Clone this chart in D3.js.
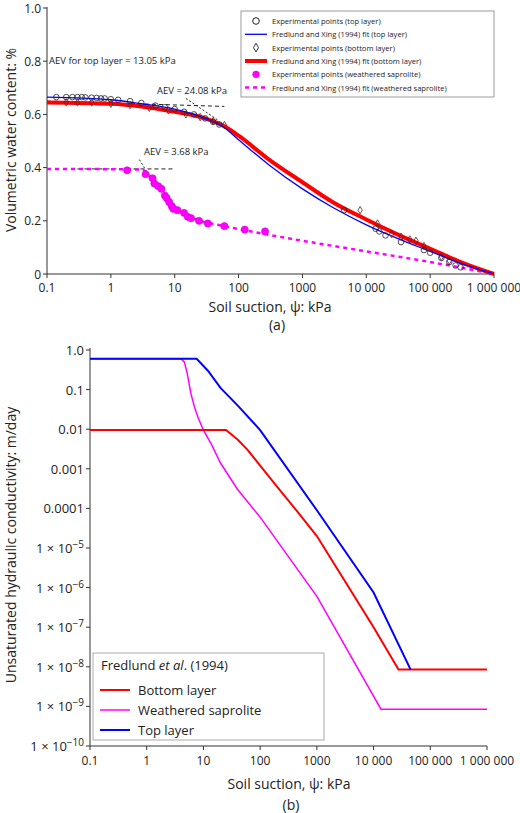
<!DOCTYPE html>
<html><head><meta charset="utf-8">
<script src="https://cdn.jsdelivr.net/npm/d3@7"></script>
<style>body{margin:0;background:#fff}text{font-family:"Open Sans",sans-serif;fill:#222}</style>
</head><body><div id="chart"></div>
<script>
// ---- data (a): water retention
var topFit = [[0.1,0.665],[1,0.655],[3,0.64],[10,0.62],[30,0.585],[60,0.55],[100,0.505],[300,0.41],[1000,0.32],[3000,0.25],[10000,0.185],[30000,0.135],[100000,0.085],[300000,0.04],[1000000,0]];
var bottomFit = [[0.1,0.645],[1,0.64],[3,0.63],[10,0.61],[30,0.585],[60,0.555],[100,0.52],[300,0.43],[1000,0.345],[3000,0.27],[10000,0.205],[30000,0.15],[100000,0.095],[300000,0.045],[1000000,0]];
var sapFit = [[0.1,0.395],[3,0.393],[4,0.37],[5,0.34],[7,0.295],[9,0.26],[12,0.235],[25,0.2],[60,0.18],[200,0.155],[1000,0.125],[10000,0.085],[100000,0.045],[1000000,0]];
var topPts = [[0.14,0.665],[0.2,0.665],[0.25,0.665],[0.3,0.665],[0.35,0.665],[0.4,0.664],[0.5,0.663],[0.6,0.662],[0.7,0.66],[0.8,0.66],[1,0.657],[1.3,0.655],[2,0.65],[3,0.643],[5,0.633],[7,0.627],[10,0.62],[14,0.61],[20,0.6],[30,0.585],[40,0.572],[50,0.562],[4500,0.24],[14000,0.17],[16000,0.16],[20000,0.145],[35000,0.12],[80000,0.09],[100000,0.08],[150000,0.06],[200000,0.045],[250000,0.032],[300000,0.025]];
var bottomPts = [[0.2,0.645],[0.3,0.645],[0.5,0.645],[1,0.64],[2,0.635],[4,0.625],[8,0.615],[15,0.6],[25,0.59],[40,0.575],[60,0.56],[8000,0.24],[15000,0.19],[25000,0.15],[35000,0.14],[48000,0.13],[60000,0.125],[80000,0.105],[150000,0.065],[200000,0.05]];
var sapPts = [[1.8,0.39],[3.5,0.375],[4.5,0.36],[4.8,0.34],[5.5,0.33],[6.2,0.32],[7,0.295],[7.5,0.285],[8.2,0.27],[9,0.255],[9.5,0.245],[11,0.24],[14,0.23],[16,0.215],[18,0.21],[24,0.2],[33,0.19],[60,0.18],[125,0.167],[260,0.16]];
// ---- data (b): conductivity
var kBottom = [[0.1,0.0095],[25,0.0095],[40,0.0055],[60,0.003],[100,0.0012],[200,0.00035],[500,0.00007],[1000,0.00002],[10000,1e-7],[27500,8.5e-9],[1000000,8.5e-9]];
var kSap = [[0.1,0.6],[4,0.6],[4.6,0.5],[5.2,0.25],[6,0.08],[7,0.035],[8,0.02],[10,0.0095],[14,0.004],[20,0.0014],[40,0.0003],[100,0.00006],[1000,6e-7],[13500,8.5e-10],[1000000,8.5e-10]];
var kTop = [[0.1,0.6],[7.6,0.6],[12,0.3],[20,0.11],[40,0.04],[100,0.0095],[1000,0.00009],[10000,7.5e-7],[45000,8.5e-9]];
var xTicks = [0.1,1,10,100,1000,10000,100000,1000000];
var xLabels = ["0.1","1","10","100","1000","10 000","100 000","1 000 000"];
var kTicks = [1,0.1,0.01,0.001,0.0001,1e-5,1e-6,1e-7,1e-8,1e-9,1e-10];

var svg = d3.select("#chart").append("svg").attr("width",520).attr("height",813);

function xAxisLabels(g, x, y0, size){
  g.selectAll(".xl").data(xTicks).enter().append("text")
    .attr("x",function(d){return x(d);}).attr("y",y0)
    .attr("text-anchor","middle").attr("font-size",size)
    .text(function(d,i){return xLabels[i];});
}

// ================= chart (a)
var xa = d3.scaleLog().domain([0.1,1e6]).range([47,494]);
var ya = d3.scaleLinear().domain([0,1]).range([274,8]);
var ga = svg.append("g");
ga.append("line").attr("x1",47).attr("x2",47).attr("y1",7).attr("y2",274).attr("stroke","#333");
ga.append("line").attr("x1",47).attr("x2",494).attr("y1",274).attr("y2",274).attr("stroke","#333");
[0,0.2,0.4,0.6,0.8,1.0].forEach(function(v){
  ga.append("line").attr("x1",43).attr("x2",47).attr("y1",ya(v)).attr("y2",ya(v)).attr("stroke","#333");
  ga.append("text").attr("x",41).attr("y",ya(v)+4.5).attr("text-anchor","end").attr("font-size",12).text(v==0?"0":v.toFixed(1));
});
xTicks.forEach(function(v){
  ga.append("line").attr("x1",xa(v)).attr("x2",xa(v)).attr("y1",274).attr("y2",278).attr("stroke","#333");
});
xAxisLabels(ga, xa, 292, 12);
ga.append("text").attr("x",270).attr("y",312).attr("text-anchor","middle").attr("font-size",14).text("Soil suction, ψ: kPa");
ga.append("text").attr("x",277).attr("y",330).attr("text-anchor","middle").attr("font-size",14).text("(a)");
ga.append("text").attr("transform","translate(16,140) rotate(-90)").attr("text-anchor","middle").attr("font-size",14).text("Volumetric water content: %");

var la = d3.line().x(function(d){return xa(d[0]);}).y(function(d){return ya(d[1]);}).curve(d3.curveMonotoneX);
// dashed AEV construction lines
ga.append("path").attr("d",la([[0.1,0.65],[60,0.63]])).attr("stroke","#222").attr("stroke-dasharray","4,3").attr("fill","none");
ga.append("path").attr("d",la([[15,0.66],[50,0.575]])).attr("stroke","#222").attr("stroke-dasharray","2,2").attr("fill","none");
ga.append("path").attr("d",la([[0.3,0.395],[10,0.395]])).attr("stroke","#222").attr("stroke-dasharray","4,3").attr("fill","none");
ga.append("path").attr("d",la([[2.8,0.43],[5,0.33]])).attr("stroke","#222").attr("stroke-dasharray","2,2").attr("fill","none");

ga.append("path").attr("d",la(sapFit)).attr("stroke","#f0f").attr("stroke-width",2.5).attr("stroke-dasharray","4,4").attr("fill","none");
ga.append("path").attr("d",la(bottomFit)).attr("stroke","#f00").attr("stroke-width",4).attr("fill","none");
ga.append("path").attr("d",la(topFit)).attr("stroke","#00f").attr("stroke-width",1.3).attr("fill","none");
ga.selectAll(".tp").data(topPts).enter().append("circle").attr("cx",function(d){return xa(d[0]);}).attr("cy",function(d){return ya(d[1]);})
  .attr("r",2.8).attr("fill","none").attr("stroke","#222").attr("stroke-width",0.8);
ga.selectAll(".bp").data(bottomPts).enter().append("path")
  .attr("d",d3.symbol().type(d3.symbolDiamond).size(16))
  .attr("transform",function(d){return "translate("+xa(d[0])+","+ya(d[1])+")";})
  .attr("fill","none").attr("stroke","#5a2020").attr("stroke-width",0.8);
ga.selectAll(".sp").data(sapPts).enter().append("circle").attr("cx",function(d){return xa(d[0]);}).attr("cy",function(d){return ya(d[1]);})
  .attr("r",3.6).attr("fill","#f0f").attr("stroke","#c0c").attr("stroke-width",0.5);

ga.append("text").attr("x",49).attr("y",64).attr("font-size",9.5).text("AEV for top layer = 13.05 kPa");
ga.append("text").attr("x",157).attr("y",94).attr("font-size",9.5).text("AEV = 24.08 kPa");
ga.append("text").attr("x",144).attr("y",155).attr("font-size",9.5).text("AEV = 3.68 kPa");

// legend (a)
var lga = ga.append("g").attr("transform","translate(241,11)");
lga.append("rect").attr("width",253).attr("height",86).attr("fill","#fff").attr("stroke","#999");
var legA = ["Experimental points (top layer)","Fredlund and Xing (1994) fit (top layer)","Experimental points (bottom layer)","Fredlund and Xing (1994) fit (bottom layer)","Experimental points (weathered saprolite)","Fredlund and Xing (1994) fit (weathered saprolite)"];
legA.forEach(function(t,i){
  var y = 10+i*13.3;
  lga.append("text").attr("x",31).attr("y",y+3).attr("font-size",7.6).attr("fill","#333").text(t);
});
lga.append("circle").attr("cx",15).attr("cy",10).attr("r",3.3).attr("fill","none").attr("stroke","#222");
lga.append("line").attr("x1",4).attr("x2",26).attr("y1",23.3).attr("y2",23.3).attr("stroke","#00f").attr("stroke-width",1.3);
lga.append("path").attr("d",d3.symbol().type(d3.symbolDiamond).size(22)).attr("transform","translate(15,36.6)").attr("fill","none").attr("stroke","#333");
lga.append("line").attr("x1",4).attr("x2",26).attr("y1",50).attr("y2",50).attr("stroke","#f00").attr("stroke-width",4);
lga.append("circle").attr("cx",15).attr("cy",63.3).attr("r",3.6).attr("fill","#f0f");
lga.append("line").attr("x1",4).attr("x2",26).attr("y1",76.6).attr("y2",76.6).attr("stroke","#f0f").attr("stroke-width",2.5).attr("stroke-dasharray","4,4");

// ================= chart (b)
var xb = d3.scaleLog().domain([0.1,1e6]).range([90,487]);
var yb = d3.scaleLog().domain([1e-10,1]).range([746,350]);
var gb = svg.append("g");
gb.append("line").attr("x1",90).attr("x2",90).attr("y1",348).attr("y2",746).attr("stroke","#333");
gb.append("line").attr("x1",90).attr("x2",487).attr("y1",746).attr("y2",746).attr("stroke","#333");
kTicks.forEach(function(v,i){
  var y = yb(v);
  gb.append("line").attr("x1",86).attr("x2",90).attr("y1",y).attr("y2",y).attr("stroke","#333");
  var t = gb.append("text").attr("x",84).attr("y",y+5).attr("text-anchor","end").attr("font-size",13);
  if (i==0) t.text("1.0");
  else if (i<5) t.text(["","0.1","0.01","0.001","0.0001"][i]);
  else { t.text("1 × 10"); t.append("tspan").attr("dy",-5).attr("font-size",10).text("−"+i); }
});
xTicks.forEach(function(v){
  gb.append("line").attr("x1",xb(v)).attr("x2",xb(v)).attr("y1",746).attr("y2",750).attr("stroke","#333");
});
xAxisLabels(gb, xb, 765, 12);
gb.append("text").attr("x",289).attr("y",789).attr("text-anchor","middle").attr("font-size",14).text("Soil suction, ψ: kPa");
gb.append("text").attr("x",291).attr("y",810).attr("text-anchor","middle").attr("font-size",14).text("(b)");
gb.append("text").attr("transform","translate(16,545) rotate(-90)").attr("text-anchor","middle").attr("font-size",14).text("Unsaturated hydraulic conductivity: m/day");

var lb = d3.line().x(function(d){return xb(d[0]);}).y(function(d){return yb(d[1]);});
gb.append("path").attr("d",lb(kSap)).attr("stroke","#f0f").attr("stroke-width",1.5).attr("fill","none");
gb.append("path").attr("d",lb(kBottom)).attr("stroke","#f00").attr("stroke-width",2).attr("fill","none");
gb.append("path").attr("d",lb(kTop)).attr("stroke","#00f").attr("stroke-width",2).attr("fill","none");

var lgb = gb.append("g").attr("transform","translate(93,653)");
lgb.append("rect").attr("width",231).attr("height",87).attr("fill","#fff").attr("stroke","#aaa");
var tt = lgb.append("text").attr("x",8).attr("y",17).attr("font-size",13);
tt.append("tspan").text("Fredlund ");
tt.append("tspan").attr("font-style","italic").text("et al");
tt.append("tspan").text(". (1994)");
[["Bottom layer","#f00",2],["Weathered saprolite","#f0f",1.5],["Top layer","#00f",2]].forEach(function(d,i){
  var y = 37+i*20;
  lgb.append("line").attr("x1",7).attr("x2",37).attr("y1",y).attr("y2",y).attr("stroke",d[1]).attr("stroke-width",d[2]);
  lgb.append("text").attr("x",45).attr("y",y+5).attr("font-size",13).text(d[0]);
});
</script></body></html>
